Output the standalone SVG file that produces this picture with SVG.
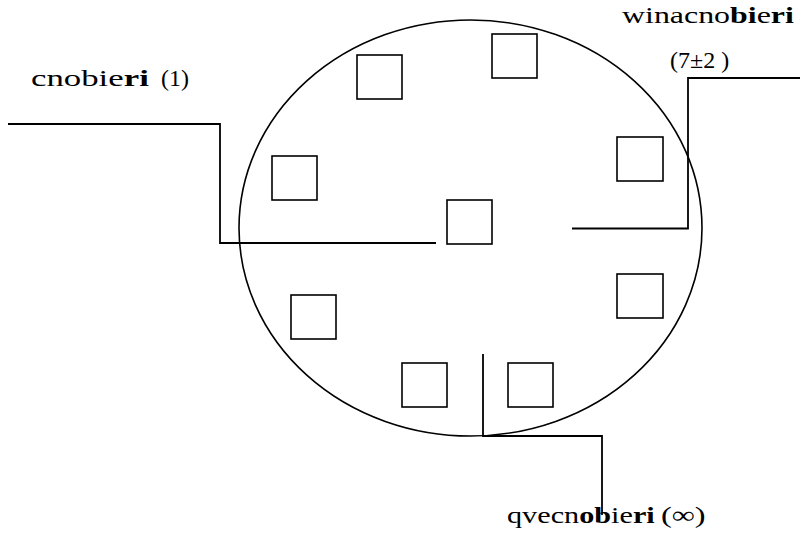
<svg xmlns="http://www.w3.org/2000/svg" width="800" height="539" viewBox="0 0 800 539">
<style>
.s{fill:none;stroke:#000;stroke-width:1.6}
.c{fill:none;stroke:#000;stroke-width:1.8}
text{font-family:"Liberation Serif","Times New Roman",serif;font-size:24px;fill:#000}
.b{font-weight:bold}
</style>
<rect width="800" height="539" fill="#fff"/>
<g id="memory">
<ellipse class="s" cx="470.5" cy="228" rx="231.5" ry="208"/>
</g>
<g id="items">
<rect id="i1" class="s" x="357" y="55" width="45" height="44"/>
<rect id="i2" class="s" x="492" y="34" width="45" height="44"/>
<rect id="i3" class="s" x="617" y="137" width="46" height="44"/>
<rect id="i4" class="s" x="272" y="156" width="45" height="44"/>
<rect id="i5" class="s" x="447" y="200" width="45" height="44"/>
<rect id="i6" class="s" x="617" y="274" width="46" height="44"/>
<rect id="i7" class="s" x="291" y="295" width="45" height="44"/>
<rect id="i8" class="s" x="402" y="363" width="45" height="44"/>
<rect id="i9" class="s" x="508" y="363" width="45" height="44"/>
</g>
<g id="connectors">
<polyline class="c" points="8,124 220,124 220,243 436,243"/>
<polyline class="c" points="572,228.5 688,228.5 688,78 800,78"/>
<polyline class="c" points="483,354 483,436 602,436 602,515"/>
</g>
<g id="label-primary">
<text transform="translate(31,86) scale(1.45,1)">cnobie<tspan class="b">ri</tspan></text>
<text x="161" y="86">(1)</text>
</g>
<g id="label-working">
<text transform="translate(622,23) scale(1.33,1)">winacno<tspan class="b">bi</tspan>e<tspan class="b">ri</tspan></text>
<text x="670" y="68">(7±2 )</text>
</g>
<g id="label-long">
<text transform="translate(507,523) scale(1.26,1)">qvecn<tspan class="b">ob</tspan>ie<tspan class="b">ri</tspan></text>
<text transform="translate(661,523) scale(1.35,1)">(∞)</text>
</g>
</svg>
